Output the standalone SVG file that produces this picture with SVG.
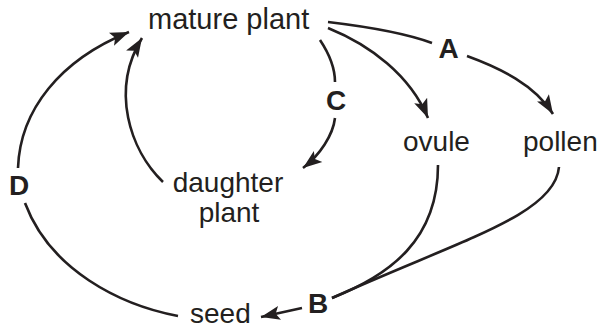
<svg xmlns="http://www.w3.org/2000/svg" width="601" height="331" viewBox="0 0 601 331">
<style>
.t{font-family:"Liberation Sans",Arial,sans-serif;font-size:28px;fill:#231f20}
.b{font-family:"Liberation Sans",Arial,sans-serif;font-size:28px;font-weight:bold;fill:#231f20}
.c{fill:none;stroke:#231f20;stroke-width:2.6}
</style>
<defs>
<marker id="ah" markerUnits="userSpaceOnUse" markerWidth="22" markerHeight="16" refX="19" refY="7" orient="auto" viewBox="0 0 22 14">
<path d="M0,0 L19,7 L0,14 L4,7 z" fill="#231f20"/>
</marker>
</defs>
<rect width="601" height="331" fill="#fff"/>
<g id="connectors">
<path class="c" d="M18,168 C20,110 60,60 129,32" marker-end="url(#ah)"/>
<path class="c" d="M163,182 C130,150 110,90 142,38" marker-end="url(#ah)"/>
<path class="c" d="M320,40 C330,55 335,68 335,82"/>
<path class="c" d="M335,118 C333,135 320,155 303,168" marker-end="url(#ah)"/>
<path class="c" d="M328,28 C370,45 410,75 428,118" marker-end="url(#ah)"/>
<path class="c" d="M328,22 C370,27 405,33 432,43"/>
<path class="c" d="M467,56 C500,68 535,85 553,114" marker-end="url(#ah)"/>
<path class="c" d="M438,165 C438,240 390,275 332,298"/>
<path class="c" d="M559,167 C555,215 460,240 332,298"/>
<path class="c" d="M25,203 C50,270 120,305 178,316"/>
<path class="c" d="M302,308 L261,317" marker-end="url(#ah)"/>
</g>
<g id="mature"><text class="t" x="148" y="29" style="font-size:29px">mature plant</text></g>
<g id="ovule"><text class="t" x="403" y="151">ovule</text></g>
<g id="pollen"><text class="t" x="523" y="151">pollen</text></g>
<g id="daughter"><text class="t" x="228" y="192" text-anchor="middle">daughter</text><text class="t" x="229" y="222" text-anchor="middle">plant</text></g>
<g id="seed"><text class="t" x="190" y="323">seed</text></g>
<g id="labelA"><text class="b" x="448.5" y="58" text-anchor="middle">A</text></g>
<g id="labelB"><text class="b" x="318" y="313" text-anchor="middle">B</text></g>
<g id="labelC"><text class="b" x="336" y="110" text-anchor="middle">C</text></g>
<g id="labelD"><text class="b" x="19" y="195" text-anchor="middle">D</text></g>
</svg>
